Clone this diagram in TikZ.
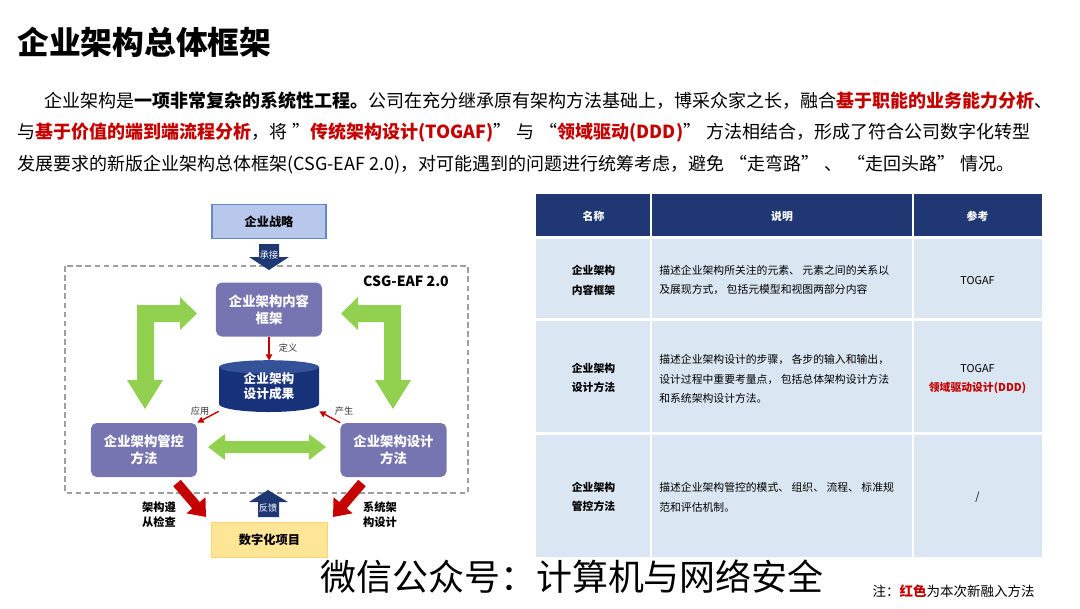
\documentclass[tikz,border=0pt]{standalone}
\usepackage{fontspec}
\setmainfont{Noto Sans CJK SC}
\usetikzlibrary{arrows.meta}
\definecolor{navy}{RGB}{31,56,115}
\definecolor{cylbody}{RGB}{24,50,122}
\definecolor{cyltop}{RGB}{52,82,152}
\definecolor{lavender}{RGB}{118,117,178}
\definecolor{leaf}{RGB}{146,208,80}
\definecolor{brick}{RGB}{196,0,0}
\definecolor{sky}{RGB}{218,231,243}
\definecolor{paleblue}{RGB}{184,200,236}
\definecolor{edgeblue}{RGB}{100,135,200}
\definecolor{straw}{RGB}{255,229,150}
\definecolor{strawedge}{RGB}{250,212,110}
\newcommand{\fsz}[2]{\fontsize{#1}{#2}\selectfont}

\begin{document}
\begin{tikzpicture}[x=0.025cm,y=-0.025cm,
  pbox/.style={rectangle,rounded corners=4pt,fill=lavender,text=white,
    font=\fsz{9.5}{12}\bfseries,align=center,minimum width=2.65cm,minimum height=1.35cm},
  flatbox/.style={rectangle,draw,line width=0.8pt,font=\fsz{8.7}{11}\bfseries,
    minimum width=2.85cm,minimum height=0.85cm},
  thinarr/.style={draw=brick,line width=1pt,-{Triangle[width=4.5pt,length=4.5pt]}},
  bigarr/.style={draw=brick,line width=7pt,-{Triangle[width=17pt,length=11pt]}},
  tag/.style={font=\fsz{6.5}{8},text=black!80,inner sep=0pt},
  sidelab/.style={font=\fsz{8}{10.5}\bfseries,align=left,inner sep=0pt},
  cell/.style={font=\fsz{7.7}{14},inner sep=0pt},
  line/.style={anchor=west,inner sep=0pt,font=\fsz{12.8}{15}}]
\useasboundingbox (0,0) rectangle (1080,608);

% title and text
\node[anchor=west,inner sep=0pt,font=\fsz{22.6}{26}\bfseries] (title) at (17,42) {企业架构总体框架};
\node[line] (line1) at (44,101) {企业架构是\textbf{一项非常复杂的系统性工程。}公司在充分继承原有架构方法基础上，博采众家之长，融合\textcolor{brick}{\textbf{基于职能的业务能力分析}}、};
\node[line] (line2) at (17,133) {与\textcolor{brick}{\textbf{基于价值的端到端流程分析}}，将\;”\textcolor{brick}{\textbf{传统架构设计(TOGAF)}}”\;与\;“\textcolor{brick}{\textbf{领域驱动(DDD)}}”\;方法相结合，形成了符合公司数字化转型};
\node[line] (line3) at (17,165) {发展要求的新版企业架构总体框架(CSG-EAF 2.0)，对可能遇到的问题进行统筹考虑，避免\;“走弯路”\;、\;“走回头路”\;情况。};

% framework
\draw[gray!75,line width=0.8pt,dash pattern=on 4pt off 2.5pt] (65,266) rectangle (468,493);
\node[font=\fsz{10}{12}\bfseries] (csg) at (406,281) {CSG-EAF 2.0};

\node[flatbox,draw=edgeblue,fill=paleblue] (strat) at (269,221.5) {企业战略};
\node[flatbox,draw=strawedge,fill=straw,minimum width=2.9cm,minimum height=0.875cm] (proj) at (269.5,540) {数字化项目};

\node[pbox] (cont) at (269,309.5) {企业架构内容\\框架};
\node[pbox] (gov) at (144,450) {企业架构管控\\方法};
\node[pbox] (des) at (393.5,450) {企业架构设计\\方法};

\fill[cylbody] (219,367) -- (219,404) arc[start angle=180,end angle=360,x radius=1.25cm,y radius=0.2cm] -- (319,367) -- cycle;
\fill[cyltop] (269,367) ellipse[x radius=1.25cm,y radius=0.17cm];
\node[text=white,font=\fsz{9}{11}\bfseries,align=center,minimum width=2.5cm,minimum height=1.25cm,inner sep=0pt] (res) at (269,386) {企业架构\\设计成果};

% green arrows
\fill[leaf] (145,409) -- (127,380) -- (137,380) -- (137,305) -- (180,305) -- (180,297) -- (197,313.5)
  -- (180,330) -- (180,322) -- (154,322) -- (154,380) -- (163,380) -- cycle;
\fill[leaf] (393,409) -- (411,380) -- (401,380) -- (401,305) -- (358,305) -- (358,297) -- (341,313.5)
  -- (358,330) -- (358,322) -- (384,322) -- (384,380) -- (375,380) -- cycle;
\fill[leaf] (208,447) -- (225,434) -- (225,441) -- (309,441) -- (309,434) -- (326,447)
  -- (309,460) -- (309,453) -- (225,453) -- (225,460) -- cycle;

% blue arrows
\fill[navy] (259,244) -- (279,244) -- (279,257) -- (289,257) -- (269,270) -- (249,257) -- (259,257) -- cycle;
\node[font=\fsz{6.5}{8},text=white,inner sep=0pt] (take) at (269,255) {承接};
\fill[navy] (258,517) -- (279,517) -- (279,502) -- (288,502) -- (268,490) -- (249,502) -- (258,502) -- cycle;
\node[font=\fsz{6.5}{8},text=white,inner sep=0pt] (back) at (268,508) {反馈};

% red arrows
\draw[thinarr] (cont.south) -- (res.north);
\draw[thinarr] (res.south west) -- (gov.north east);
\draw[thinarr] (des.north west) -- (res.south east);
\node[tag] (def) at (288,348) {定义};
\node[tag] (use) at (200,411) {应用};
\node[tag] (make) at (344,411) {产生};

\coordinate (lt) at (177,483);
\coordinate (lh) at (206,517);
\coordinate (rt) at (362,483);
\coordinate (rh) at (333,517);
\draw[bigarr] (lt) -- (lh);
\draw[bigarr] (rt) -- (rh);
\node[sidelab] (check) at (159,515) {架构遵\\从检查};
\node[sidelab] (sysd) at (380,515) {系统架\\构设计};

% table
\fill[navy] (536,194) rectangle (1042,236);
\foreach \top/\bot in {239/318,321/432,435/557}
  \fill[sky] (536,\top) rectangle (1042,\bot);
\foreach \x in {651,913}
  \draw[white,line width=1.4pt] (\x,194) -- (\x,557);

\foreach \x/\name/\lab in {593.5/hda/名称,782/hdb/说明,977.5/hdc/参考}
  \node[cell,text=white,font=\fsz{7.7}{10}\bfseries] (\name) at (\x,216) {\lab};

\node[cell,font=\fsz{7.7}{14}\bfseries,align=center] (r1a) at (593.5,280) {企业架构\\内容框架};
\node[cell,align=left,anchor=west] (r1b) at (659,280) {描述企业架构所关注的元素、 元素之间的关系以\\及展现方式， 包括元模型和视图两部分内容};
\node[cell] (r1c) at (977.5,281) {TOGAF};

\node[cell,font=\fsz{7.7}{14}\bfseries,align=center] (r2a) at (593.5,378) {企业架构\\设计方法};
\node[cell,align=left,anchor=west] (r2b) at (659,379) {描述企业架构设计的步骤， 各步的输入和输出，\\设计过程中重要考量点， 包括总体架构设计方法\\和系统架构设计方法。};
\node[cell,align=center] (r2c) at (977.5,379) {TOGAF\\\textcolor{brick}{\textbf{领域驱动设计(DDD)}}};

\node[cell,font=\fsz{7.7}{14}\bfseries,align=center] (r3a) at (593.5,497) {企业架构\\管控方法};
\node[cell,align=left,anchor=west] (r3b) at (659,497) {描述企业架构管控的模式、 组织、 流程、 标准规\\范和评估机制。};
\node[cell] (r3c) at (977.5,497) {/};

% footer
\node[inner sep=0pt,font=\fsz{25.6}{30}] (mark) at (572,577) {微信公众号：计算机与网络安全};
\node[anchor=east,inner sep=0pt,font=\fsz{9.6}{12}] (note) at (1035,591) {注：\textcolor{brick}{\textbf{红色}}为本次新融入方法};
\end{tikzpicture}
\end{document}
